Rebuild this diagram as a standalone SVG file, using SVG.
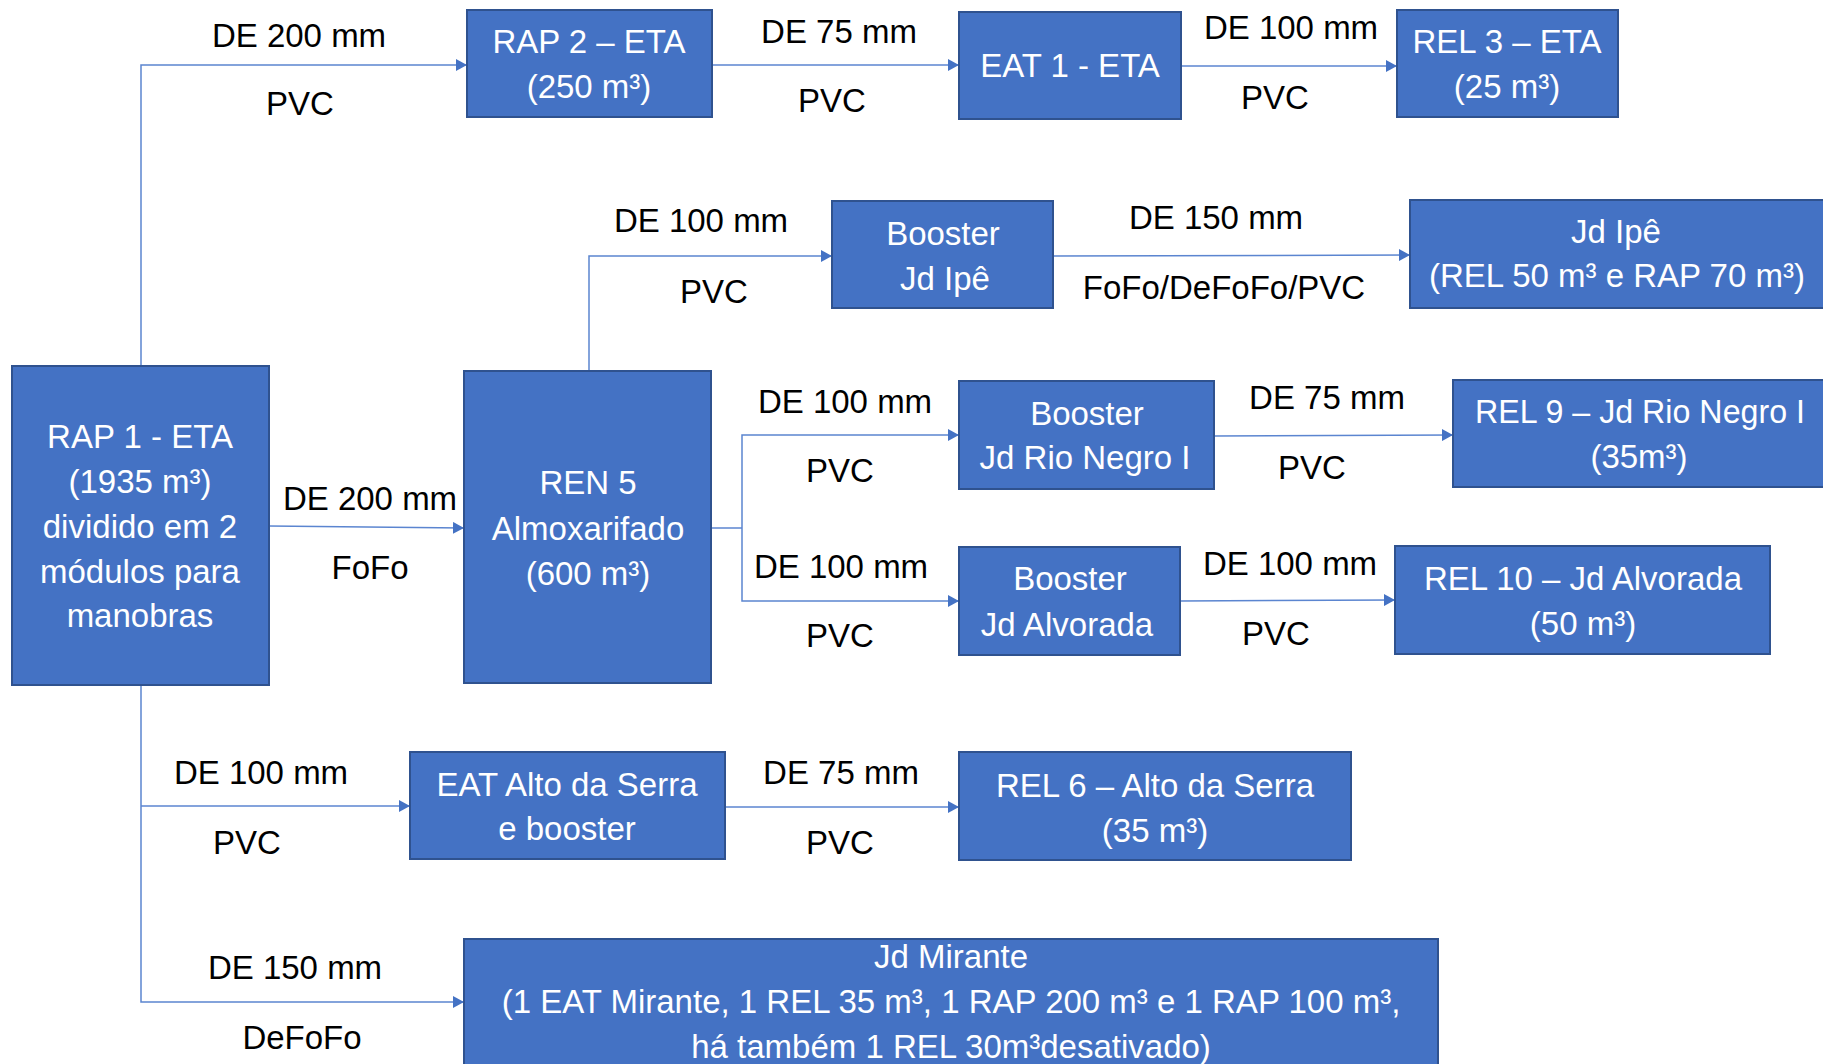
<svg xmlns="http://www.w3.org/2000/svg" width="1823" height="1064" viewBox="0 0 1823 1064">
<defs>
<style>
.box{fill:#4472C4;stroke:#2F528F;stroke-width:2}
.nt{font-family:"Liberation Sans",Arial,sans-serif;font-size:33px;fill:#FFFFFF;text-anchor:middle}
.lb{font-family:"Liberation Sans",Arial,sans-serif;font-size:33px;fill:#000000;text-anchor:middle}
.cn{fill:none;stroke:#5B85D0;stroke-width:1.5}
</style>
<marker id="ah" markerUnits="userSpaceOnUse" markerWidth="11" markerHeight="12" refX="11" refY="6" orient="auto">
<path d="M0,0 L11,6 L0,12 z" fill="#4472C4"/>
</marker>
</defs>
<rect width="1823" height="1064" fill="#FFFFFF"/>
<g id="connectors">
<path class="cn" d="M141,366 V65 H467" marker-end="url(#ah)"/>
<path class="cn" d="M712,65 H959" marker-end="url(#ah)"/>
<path class="cn" d="M1181,66 H1397" marker-end="url(#ah)"/>
<path class="cn" d="M269,526 L464,528" marker-end="url(#ah)"/>
<path class="cn" d="M589,371 V256 H832" marker-end="url(#ah)"/>
<path class="cn" d="M1053,256 L1410,255" marker-end="url(#ah)"/>
<path class="cn" d="M711,528 H742"/>
<path class="cn" d="M742,528 V435 H959" marker-end="url(#ah)"/>
<path class="cn" d="M742,528 V601 H959" marker-end="url(#ah)"/>
<path class="cn" d="M1214,436 L1453,435" marker-end="url(#ah)"/>
<path class="cn" d="M1180,601 L1395,600" marker-end="url(#ah)"/>
<path class="cn" d="M141,685 V1002 H464" marker-end="url(#ah)"/>
<path class="cn" d="M141,806 H410" marker-end="url(#ah)"/>
<path class="cn" d="M725,807 H959" marker-end="url(#ah)"/>
</g>
<g id="labels">
<text class="lb" x="299" y="47">DE 200 mm</text>
<text class="lb" x="300" y="115">PVC</text>
<text class="lb" x="839" y="43">DE 75 mm</text>
<text class="lb" x="832" y="112">PVC</text>
<text class="lb" x="1291" y="39">DE 100 mm</text>
<text class="lb" x="1275" y="109">PVC</text>
<text class="lb" x="701" y="232">DE 100 mm</text>
<text class="lb" x="714" y="303">PVC</text>
<text class="lb" x="1216" y="229">DE 150 mm</text>
<text class="lb" x="1224" y="299">FoFo/DeFoFo/PVC</text>
<text class="lb" x="370" y="510">DE 200 mm</text>
<text class="lb" x="370" y="579">FoFo</text>
<text class="lb" x="845" y="413">DE 100 mm</text>
<text class="lb" x="840" y="482">PVC</text>
<text class="lb" x="1327" y="409">DE 75 mm</text>
<text class="lb" x="1312" y="479">PVC</text>
<text class="lb" x="841" y="578">DE 100 mm</text>
<text class="lb" x="840" y="647">PVC</text>
<text class="lb" x="1290" y="575">DE 100 mm</text>
<text class="lb" x="1276" y="645">PVC</text>
<text class="lb" x="261" y="784">DE 100 mm</text>
<text class="lb" x="247" y="854">PVC</text>
<text class="lb" x="841" y="784">DE 75 mm</text>
<text class="lb" x="840" y="854">PVC</text>
<text class="lb" x="295" y="979">DE 150 mm</text>
<text class="lb" x="302" y="1049">DeFoFo</text>
</g>
<g id="rap1">
<rect class="box" x="12" y="366" width="257" height="319"/>
<text class="nt" x="140" y="448">RAP 1 - ETA</text>
<text class="nt" x="140" y="493">(1935 m³)</text>
<text class="nt" x="140" y="538">dividido em 2</text>
<text class="nt" x="140" y="583">módulos para</text>
<text class="nt" x="140" y="627">manobras</text>
</g>
<g id="rap2">
<rect class="box" x="467" y="10" width="245" height="107"/>
<text class="nt" x="589" y="53">RAP 2 – ETA</text>
<text class="nt" x="589" y="98">(250 m³)</text>
</g>
<g id="eat1">
<rect class="box" x="959" y="12" width="222" height="107"/>
<text class="nt" x="1070" y="77">EAT 1 - ETA</text>
</g>
<g id="rel3">
<rect class="box" x="1397" y="10" width="221" height="107"/>
<text class="nt" x="1507" y="53">REL 3 – ETA</text>
<text class="nt" x="1507" y="98">(25 m³)</text>
</g>
<g id="booster-ipe">
<rect class="box" x="832" y="201" width="221" height="107"/>
<text class="nt" x="943" y="245">Booster</text>
<text class="nt" x="945" y="290">Jd Ipê</text>
</g>
<g id="jd-ipe">
<rect class="box" x="1410" y="200" width="414" height="108"/>
<text class="nt" x="1616" y="243">Jd Ipê</text>
<text class="nt" x="1617" y="287">(REL 50 m³ e RAP 70 m³)</text>
</g>
<g id="ren5">
<rect class="box" x="464" y="371" width="247" height="312"/>
<text class="nt" x="588" y="494">REN 5</text>
<text class="nt" x="588" y="540">Almoxarifado</text>
<text class="nt" x="588" y="585">(600 m³)</text>
</g>
<g id="booster-rio-negro">
<rect class="box" x="959" y="381" width="255" height="108"/>
<text class="nt" x="1087" y="425">Booster</text>
<text class="nt" x="1085" y="469">Jd Rio Negro I</text>
</g>
<g id="rel9">
<rect class="box" x="1453" y="380" width="371" height="107"/>
<text class="nt" x="1640" y="423" textLength="330" lengthAdjust="spacingAndGlyphs">REL 9 – Jd Rio Negro I</text>
<text class="nt" x="1639" y="468">(35m³)</text>
</g>
<g id="booster-alvorada">
<rect class="box" x="959" y="547" width="221" height="108"/>
<text class="nt" x="1070" y="590">Booster</text>
<text class="nt" x="1067" y="636">Jd Alvorada</text>
</g>
<g id="rel10">
<rect class="box" x="1395" y="546" width="375" height="108"/>
<text class="nt" x="1583" y="590">REL 10 – Jd Alvorada</text>
<text class="nt" x="1583" y="635">(50 m³)</text>
</g>
<g id="eat-alto-serra">
<rect class="box" x="410" y="752" width="315" height="107"/>
<text class="nt" x="567" y="796">EAT Alto da Serra</text>
<text class="nt" x="567" y="840">e booster</text>
</g>
<g id="rel6">
<rect class="box" x="959" y="752" width="392" height="108"/>
<text class="nt" x="1155" y="797">REL 6 – Alto da Serra</text>
<text class="nt" x="1155" y="842">(35 m³)</text>
</g>
<g id="jd-mirante">
<rect class="box" x="464" y="939" width="974" height="130"/>
<text class="nt" x="951" y="968">Jd Mirante</text>
<text class="nt" x="951" y="1013">(1 EAT Mirante, 1 REL 35 m³, 1 RAP 200 m³ e 1 RAP 100 m³,</text>
<text class="nt" x="951" y="1058">há também 1 REL 30m³desativado)</text>
</g>
</svg>
